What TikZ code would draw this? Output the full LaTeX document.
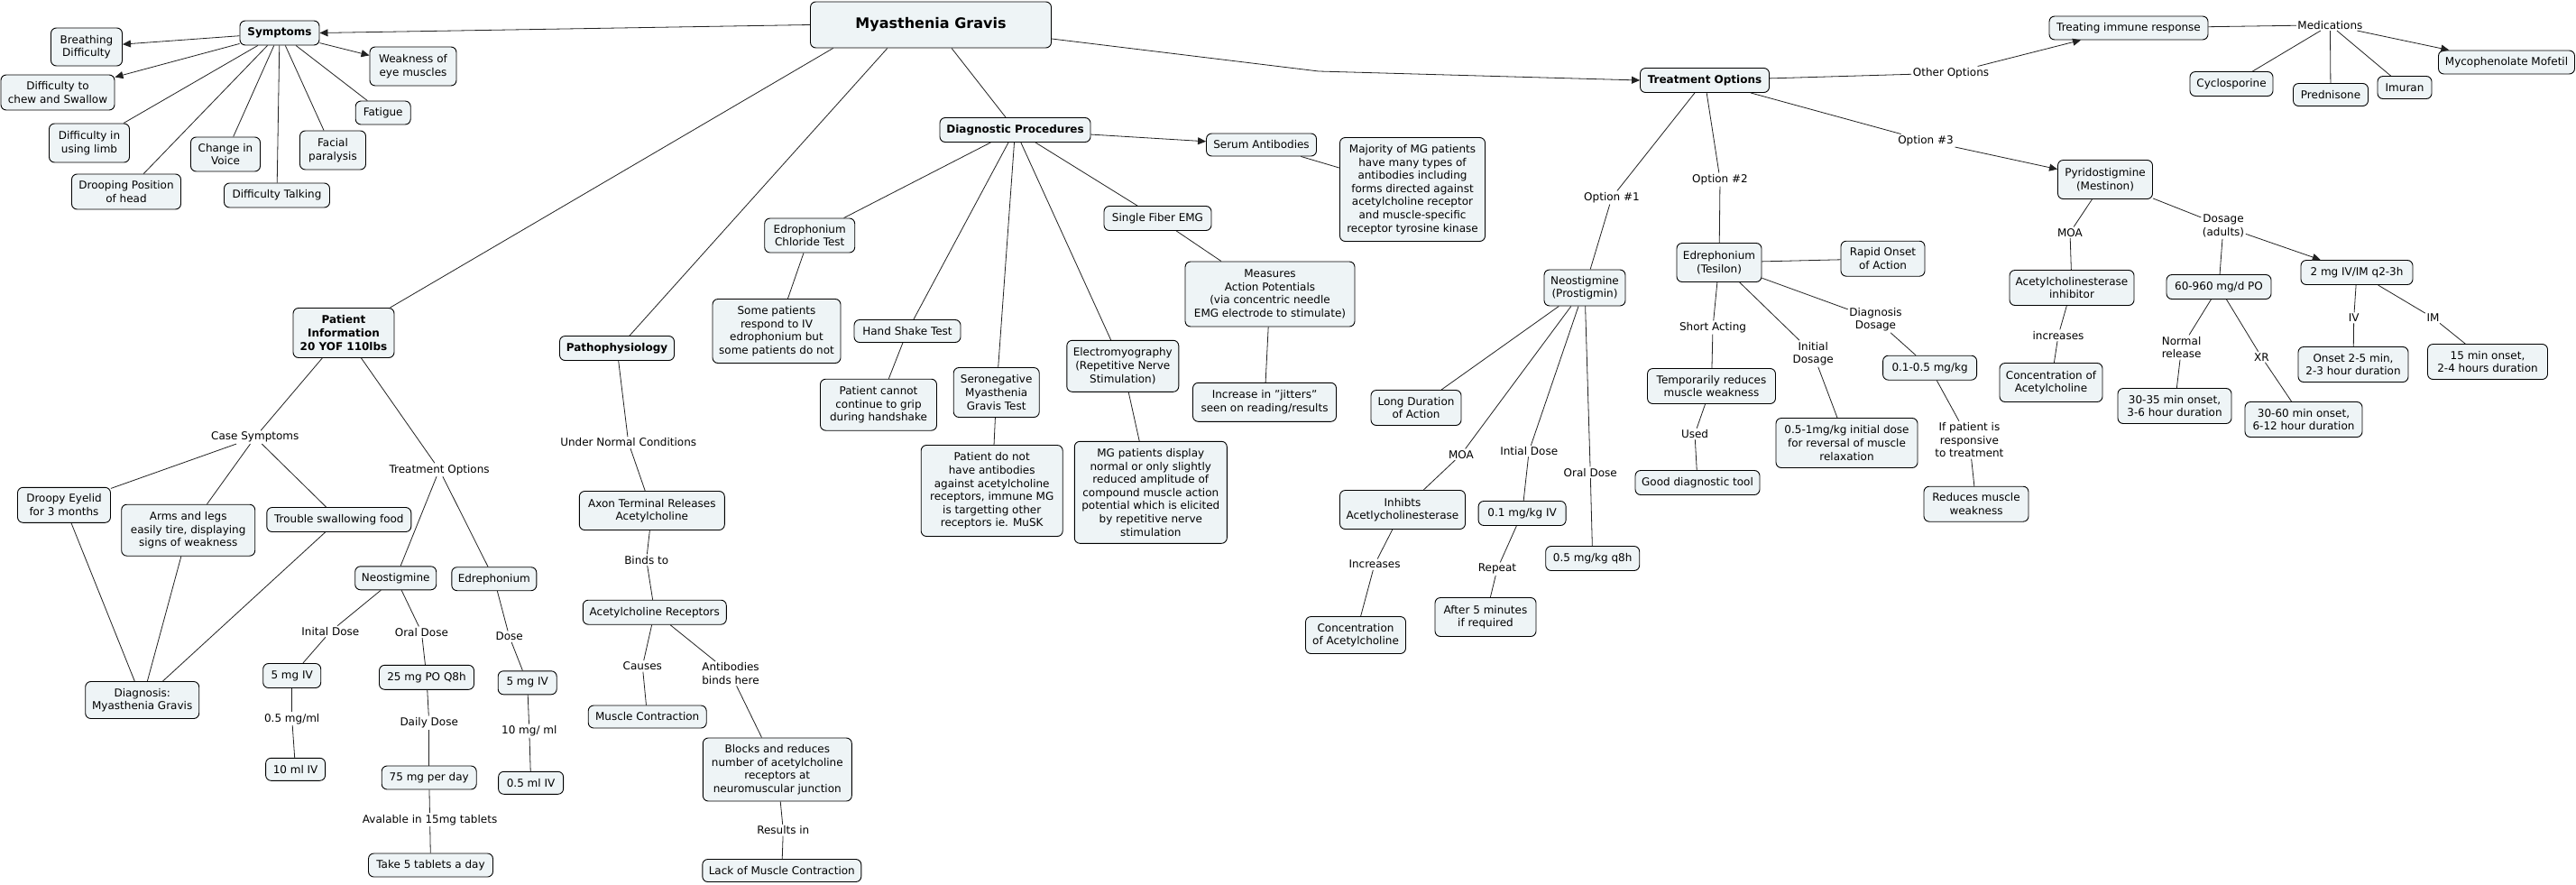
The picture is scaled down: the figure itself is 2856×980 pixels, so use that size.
\documentclass[tikz,border=0pt]{standalone}
\usepackage{fontspec}
\setmainfont{DejaVu Sans}
\usetikzlibrary{arrows.meta}
\definecolor{boxfill}{RGB}{238,244,246}
\definecolor{edgecol}{RGB}{34,34,34}
\newcommand{\mybox}[6]{\node[box,minimum width=#4pt,minimum height=#5pt] (#1) at (#2,#3) {#6};}
\newcommand{\myhdr}[6]{\node[box,font=\fontsize{12}{14.6}\selectfont\bfseries,minimum width=#4pt,minimum height=#5pt] (#1) at (#2,#3) {#6};}
\newcommand{\mylab}[4]{\node[lab] (#1) at (#2,#3) {#4};}
\newcommand{\conn}[2]{\draw[conn] (#1) -- (#2);}
\newcommand{\connar}[2]{\draw[conn,arr] (#1) -- (#2);}
\begin{document}
\begin{tikzpicture}[x=1pt,y=-1pt,
  font=\fontsize{12}{14.6}\selectfont,
  box/.style={draw=black,line width=0.9pt,rounded corners=6pt,fill=boxfill,align=center,inner xsep=4pt,inner ysep=5pt},
  lab/.style={align=center,inner sep=1.5pt},
  conn/.style={draw=edgecol,line width=0.8pt},
  arr/.style={-{Triangle[length=9pt,width=8pt]}}]
\fill[white] (0,0) rectangle (2856,980);
\useasboundingbox (0,0) rectangle (2856,980);

% ---- headers
\node[box,font=\fontsize{16}{19}\selectfont\bfseries,minimum width=267pt,minimum height=51pt] (mg) at (1032,27.5) {Myasthenia Gravis};
\myhdr{sym}{310}{36.5}{88}{27}{Symptoms}
\myhdr{pi}{381}{369}{112}{55}{Patient\\Information\\20 YOF 110lbs}
\myhdr{patho}{684}{386}{127}{27}{Pathophysiology}
\myhdr{dp}{1125.5}{144}{167}{27}{Diagnostic Procedures}
\myhdr{to}{1890}{89}{143}{27}{Treatment Options}

% ---- symptoms
\mybox{breath}{96}{52}{79}{42}{Breathing\\Difficulty}
\mybox{chew}{64}{102.5}{126}{39}{Difficulty to\\chew and Swallow}
\mybox{limb}{99}{158.5}{89}{43}{Difficulty in\\using limb}
\mybox{droop}{140}{212.5}{121}{39}{Drooping Position\\of head}
\mybox{voice}{250}{171}{77}{38}{Change in\\Voice}
\mybox{talk}{307}{216.5}{117}{27}{Difficulty Talking}
\mybox{facial}{369}{166.5}{73}{43}{Facial\\paralysis}
\mybox{fatigue}{424.7}{125}{61}{26}{Fatigue}
\mybox{eye}{458}{73.5}{96}{43}{Weakness of\\eye muscles}

% ---- patient information
\mylab{lCase}{282.8}{484.7}{Case Symptoms}
\mylab{lTreatOpt}{487.1}{520.7}{Treatment Options}
\mybox{droopy}{71}{559.8}{103}{39}{Droopy Eyelid\\for 3 months}
\mybox{arms}{208.7}{587.7}{148}{57}{Arms and legs\\easily tire, displaying\\signs of weakness}
\mybox{trouble}{375.8}{576}{160}{27}{Trouble swallowing food}
\mybox{diag}{157.7}{776}{126}{41}{Diagnosis:\\Myasthenia Gravis}
\mybox{neoa}{438.7}{640.8}{90}{26}{Neostigmine}
\mybox{edra}{547.8}{641.7}{94}{26}{Edrephonium}
\mylab{lInitA}{366.4}{700}{Inital Dose}
\mylab{lOralA}{467.4}{700.7}{Oral Dose}
\mylab{lDoseA}{564.7}{705.7}{Dose}
\mybox{mgfa}{323.7}{749}{64}{27}{5 mg IV}
\mybox{poq}{473}{750.8}{105}{27}{25 mg PO Q8h}
\mybox{mgfb}{584.7}{756.8}{65}{26}{5 mg IV}
\mylab{lHalfml}{323.7}{796.7}{0.5 mg/ml}
\mylab{lDaily}{475.7}{801}{Daily Dose}
\mylab{lTenml}{586.8}{810}{10 mg/ ml}
\mybox{tenml}{327.6}{852.8}{66}{25}{10 ml IV}
\mybox{perday}{475.7}{862}{105}{26}{75 mg per day}
\mybox{halfml}{588.6}{867.8}{72}{25}{0.5 ml IV}
\mylab{lAval}{476.6}{908.7}{Avalable in 15mg tablets}
\mybox{takefive}{477.5}{959}{138}{26}{Take 5 tablets a day}

% ---- pathophysiology
\mylab{lUnder}{696.7}{490.5}{Under Normal Conditions}
\mybox{axon}{722.8}{566}{161}{43}{Axon Terminal Releases\\Acetylcholine}
\mylab{lBinds}{716.7}{620.6}{Binds to}
\mybox{acr}{725.8}{678.7}{159}{27}{Acetylcholine Receptors}
\mylab{lCauses}{712.3}{738.4}{Causes}
\mylab{lAntib}{810}{746.7}{Antibodies\\binds here}
\mybox{mcon}{717.7}{794.5}{131}{25}{Muscle Contraction}
\mybox{blocks}{861.8}{853}{165}{70}{Blocks and reduces\\number of acetylcholine\\receptors at\\neuromuscular junction}
\mylab{lResults}{868.3}{920.3}{Results in}
\mybox{lack}{866.8}{965}{176}{25}{Lack of Muscle Contraction}

% ---- diagnostic procedures
\mybox{edct}{897.7}{261}{100}{38}{Edrophonium\\Chloride Test}
\mybox{somep}{861}{367}{142}{71}{Some patients\\respond to IV\\edrophonium but\\some patients do not}
\mybox{hst}{1006}{367}{118}{25}{Hand Shake Test}
\mybox{grip}{974}{448.7}{129}{57}{Patient cannot\\continue to grip\\during handshake}
\mybox{sero}{1104.7}{435}{95}{55}{Seronegative\\Myasthenia\\Gravis Test}
\mybox{noab}{1099.7}{544}{157}{101}{Patient do not\\have antibodies\\against acetylcholine\\receptors, immune MG\\is targetting other\\receptors ie. MuSK}
\mybox{emg}{1244.8}{405.8}{124}{57}{Electromyography\\(Repetitive Nerve\\Stimulation)}
\mybox{mgdisp}{1275.8}{545.8}{169}{113}{MG patients display\\normal or only slightly\\reduced amplitude of\\compound muscle action\\potential which is elicited\\by repetitive nerve\\stimulation}
\mybox{sfemg}{1283.5}{242}{119}{27}{Single Fiber EMG}
\mybox{measures}{1408}{326}{188}{72}{Measures\\Action Potentials\\(via concentric needle\\EMG electrode to stimulate)}
\mybox{jitter}{1402}{445.8}{159}{43}{Increase in "jitters"\\seen on reading/results}
\mybox{serum}{1398.5}{160.5}{122}{25}{Serum Antibodies}
\mybox{major}{1566}{210}{161}{115}{Majority of MG patients\\have many types of\\antibodies including\\forms directed against\\acetylcholine receptor\\and muscle-specific\\receptor tyrosine kinase}

% ---- treatment options
\mylab{lOptA}{1787}{219}{Option \#1}
\mylab{lOptB}{1907}{199}{Option \#2}
\mylab{lOptC}{2135}{156}{Option \#3}
\mylab{lOther}{2163}{81}{Other Options}
\mybox{neob}{1757}{319}{90}{40}{Neostigmine\\(Prostigmin)}
\mybox{edrb}{1906}{291}{94}{43}{Edrephonium\\(Tesilon)}
\mybox{rapid}{2087.5}{286.7}{93}{39}{Rapid Onset\\of Action}
\mybox{longd}{1570}{452}{100}{39}{Long Duration\\of Action}
\mylab{lMoaA}{1620}{503.7}{MOA}
\mylab{lIntial}{1695.2}{500}{Intial Dose}
\mylab{lOralB}{1763.2}{523.7}{Oral Dose}
\mybox{inhib}{1555}{565}{139}{43}{Inhibts\\Acetlycholinesterase}
\mybox{ivzo}{1687.6}{569}{97}{27}{0.1 mg/kg IV}
\mybox{qeight}{1765.7}{619}{104}{27}{0.5 mg/kg q8h}
\mylab{lIncrA}{1524}{625.7}{Increases}
\mylab{lRepeat}{1660}{630.7}{Repeat}
\mybox{concA}{1503}{704}{111}{41}{Concentration\\of Acetylcholine}
\mybox{afterf}{1647}{684}{112}{43}{After 5 minutes\\if required}
\mylab{lShort}{1899}{363}{Short Acting}
\mybox{temp}{1897.5}{428}{142}{39}{Temporarily reduces\\muscle weakness}
\mylab{lUsed}{1879}{481}{Used}
\mybox{good}{1882}{535}{138}{27}{Good diagnostic tool}
\mylab{lInitD}{2010.2}{392}{Initial\\Dosage}
\mylab{lDiagD}{2079.5}{354}{Diagnosis\\Dosage}
\mybox{dosehi}{2047.5}{491}{157}{55}{0.5-1mg/kg initial dose\\for reversal of muscle\\relaxation}
\mybox{doselo}{2139.6}{407.7}{104}{27}{0.1-0.5 mg/kg}
\mylab{lIfpat}{2183.4}{487.7}{If patient is\\responsive\\to treatment}
\mybox{reduces}{2191}{558.7}{116}{39}{Reduces muscle\\weakness}

% ---- other options / pyridostigmine
\mybox{treat}{2360}{31}{176}{26}{Treating immune response}
\mylab{lMed}{2583.4}{27.7}{Medications}
\mybox{cyclo}{2474}{93}{92}{27}{Cyclosporine}
\mybox{pred}{2584}{105}{83}{25}{Prednisone}
\mybox{imuran}{2666}{97}{60}{25}{Imuran}
\mybox{myco}{2779}{69}{151}{26}{Mycophenolate Mofetil}
\mybox{pyr}{2334}{199}{105}{43}{Pyridostigmine\\(Mestinon)}
\mylab{lMoaB}{2295}{257.7}{MOA}
\mylab{lDosage}{2465}{250.7}{Dosage\\(adults)}
\mybox{ache}{2297}{319}{138}{39}{Acetylcholinesterase\\inhibitor}
\mylab{lIncrB}{2282}{371.7}{increases}
\mybox{concB}{2274}{424}{114}{43}{Concentration of\\Acetylcholine}
\mybox{posixty}{2460}{318}{116}{27}{60-960 mg/d PO}
\mybox{ivtwo}{2613}{302}{124}{27}{2 mg IV/IM q2-3h}
\mylab{lNormal}{2418.6}{385}{Normal\\release}
\mylab{lXR}{2507.3}{395.7}{XR}
\mylab{lIV}{2609.7}{352.3}{IV}
\mylab{lIM}{2697.5}{352.3}{IM}
\mybox{rtf}{2411}{450}{126}{39}{30-35 min onset,\\3-6 hour duration}
\mybox{rts}{2554}{465}{130}{39}{30-60 min onset,\\6-12 hour duration}
\mybox{ontf}{2609}{404}{122}{39}{Onset 2-5 min,\\2-3 hour duration}
\mybox{onft}{2758}{401}{133}{39}{15 min onset,\\2-4 hours duration}

% ================= connectors
% main concept
\draw[conn,arr] (mg.west) -- (sym.east);
\draw[conn] ([xshift=25.6pt]mg.south west) -- ([xshift=-5pt]pi.north east);
\draw[conn] ([xshift=85.8pt]mg.south west) -- ([xshift=14pt]patho.north);
\draw[conn] ([xshift=157pt]mg.south west) -- ([xshift=-10.5pt]dp.north);
\coordinate (cto) at (1462,79);
\draw[conn,arr] ([yshift=-15.5pt]mg.east) -- (cto) -- (to.west);

% symptoms
\connar{sym}{breath}
\connar{sym}{chew}
\conn{sym}{limb}
\conn{sym}{droop}
\conn{sym}{voice}
\conn{sym}{talk}
\conn{sym}{facial}
\conn{sym}{fatigue}
\connar{sym}{eye}

% patient information
\conn{pi}{lCase}
\conn{lCase}{droopy}
\conn{lCase}{arms}
\conn{lCase}{trouble}
\conn{droopy}{diag}
\conn{arms}{diag}
\conn{trouble}{diag}
\conn{pi}{lTreatOpt}
\conn{lTreatOpt}{neoa}
\conn{lTreatOpt}{edra}
\conn{neoa}{lInitA}
\conn{lInitA}{mgfa}
\conn{mgfa}{lHalfml}
\conn{lHalfml}{tenml}
\conn{neoa}{lOralA}
\conn{lOralA}{poq}
\conn{poq}{lDaily}
\conn{lDaily}{perday}
\conn{perday}{lAval}
\conn{lAval}{takefive}
\conn{edra}{lDoseA}
\conn{lDoseA}{mgfb}
\conn{mgfb}{lTenml}
\conn{lTenml}{halfml}

% pathophysiology
\conn{patho}{lUnder}
\conn{lUnder}{axon}
\conn{axon}{lBinds}
\conn{lBinds}{acr}
\conn{acr}{lCauses}
\conn{lCauses}{mcon}
\conn{acr}{lAntib}
\conn{lAntib}{blocks}
\conn{blocks}{lResults}
\conn{lResults}{lack}

% diagnostic procedures
\connar{dp}{serum}
\conn{serum}{major}
\conn{dp}{edct}
\conn{edct}{somep}
\conn{dp}{hst}
\conn{hst}{grip}
\conn{dp}{sero}
\conn{sero}{noab}
\conn{dp}{emg}
\conn{emg}{mgdisp}
\conn{dp}{sfemg}
\conn{sfemg}{measures}
\conn{measures}{jitter}

% treatment options
\conn{to}{lOptA}
\conn{lOptA}{neob}
\conn{to}{lOptB}
\conn{lOptB}{edrb}
\conn{to}{lOptC}
\connar{lOptC}{pyr}
\conn{to}{lOther}
\connar{lOther}{treat}
\conn{treat}{lMed}
\conn{lMed}{cyclo}
\conn{lMed}{pred}
\conn{lMed}{imuran}
\connar{lMed}{myco}

% neostigmine (prostigmin)
\conn{neob}{longd}
\conn{neob}{lMoaA}
\conn{lMoaA}{inhib}
\conn{inhib}{lIncrA}
\conn{lIncrA}{concA}
\conn{neob}{lIntial}
\conn{lIntial}{ivzo}
\conn{ivzo}{lRepeat}
\conn{lRepeat}{afterf}
\conn{neob}{lOralB}
\conn{lOralB}{qeight}

% edrephonium (tesilon)
\conn{edrb}{rapid}
\conn{edrb}{lShort}
\conn{lShort}{temp}
\conn{temp}{lUsed}
\conn{lUsed}{good}
\conn{edrb}{lInitD}
\conn{lInitD}{dosehi}
\conn{edrb}{lDiagD}
\conn{lDiagD}{doselo}
\conn{doselo}{lIfpat}
\conn{lIfpat}{reduces}

% pyridostigmine
\conn{pyr}{lMoaB}
\conn{lMoaB}{ache}
\conn{ache}{lIncrB}
\conn{lIncrB}{concB}
\conn{pyr}{lDosage}
\conn{lDosage}{posixty}
\connar{lDosage}{ivtwo}
\conn{posixty}{lNormal}
\conn{lNormal}{rtf}
\conn{posixty}{lXR}
\conn{lXR}{rts}
\conn{ivtwo}{lIV}
\conn{lIV}{ontf}
\conn{ivtwo}{lIM}
\conn{lIM}{onft}
\end{tikzpicture}
\end{document}
